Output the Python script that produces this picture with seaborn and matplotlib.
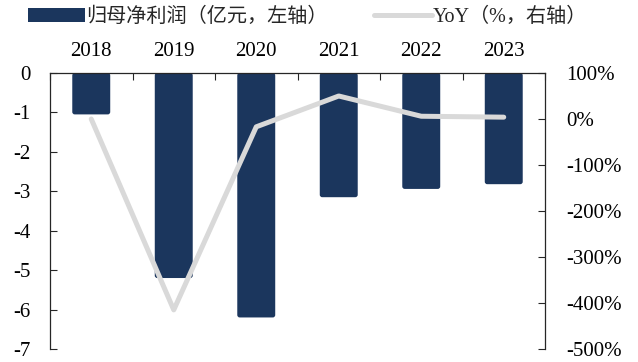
import numpy as np
import pandas as pd
import matplotlib
matplotlib.use("Agg")
import matplotlib.pyplot as plt
import seaborn as sns
from matplotlib.patches import FancyBboxPatch, Patch
from matplotlib.lines import Line2D
from matplotlib.ticker import FuncFormatter, MultipleLocator

# 年度数据
years = ["2018", "2019", "2020", "2021", "2022", "2023"]
net_profit = [-1.05, -5.2, -6.2, -3.15, -2.94, -2.82]   # 归母净利润（亿元）
yoy_pct = [0, -415, -17, 50, 6, 4]                       # 同比（%）

bar_label = "归母净利润（亿元，左轴）"
line_label = "YoY（%，右轴）"

BAR_COLOR = "#1b365d"
LINE_COLOR = "#d9d9d9"
AXIS_COLOR = "#262626"
TICK_FS = 15
LINE_W = 3.6

sns.set_theme(style="white")
plt.rcParams["font.family"] = ["Liberation Serif", "Noto Sans CJK SC"]
plt.rcParams["axes.unicode_minus"] = False

df = pd.DataFrame({"year": years, "profit": net_profit, "yoy": yoy_pct})

fig = plt.figure(figsize=(6.38, 3.62), dpi=100)
ax = fig.add_axes([50 / 638, 1 - 349 / 362, 495 / 638, 276 / 362])

sns.barplot(data=df, x="year", y="profit", color=BAR_COLOR, width=0.46,
            saturation=1, ax=ax, zorder=2)

# rounded bar corners
px_x = 495 / 6.0
px_y = 276 / 7.0
for p in list(ax.patches):
    x0, y0 = p.get_x(), p.get_y()
    w, h = p.get_width(), p.get_height()
    yb = min(y0, y0 + h)
    fb = FancyBboxPatch((x0, yb), w, abs(h),
                        boxstyle="round,pad=0,rounding_size=0.03",
                        mutation_aspect=px_x / px_y,
                        facecolor=BAR_COLOR, edgecolor="none", zorder=2)
    p.remove()
    ax.add_patch(fb)

ax.set_ylim(-7, 0)
ax.set_xlim(-0.5, 5.5)
ax.yaxis.set_major_locator(MultipleLocator(1))
ax.yaxis.set_major_formatter(FuncFormatter(lambda v, _: f"{v:.0f}"))
ax.set_xlabel("")
ax.set_ylabel("")

# category labels on top, tick marks on category boundaries
ax.xaxis.tick_top()
ax.set_xticks(range(len(years)))
ax.set_xticklabels(years)
ax.tick_params(axis="x", which="major", length=0, pad=9, labelsize=TICK_FS,
               labelcolor="black")
ax.set_xticks(np.arange(-0.5, len(years), 1.0), minor=True)
ax.tick_params(axis="x", which="minor", top=True, bottom=False,
               direction="in", length=5, color=AXIS_COLOR, width=0.8)
ax.tick_params(axis="y", direction="in", length=5, color=AXIS_COLOR,
               width=0.8, labelsize=TICK_FS, labelcolor="black", pad=14)

for s in ["left", "top"]:
    ax.spines[s].set_visible(True)
    ax.spines[s].set_color(AXIS_COLOR)
    ax.spines[s].set_linewidth(0.9)
ax.spines["bottom"].set_visible(False)
ax.spines["right"].set_visible(False)

ax2 = ax.twinx()
sns.lineplot(data=df, x="year", y="yoy", ax=ax2, color=LINE_COLOR,
             linewidth=LINE_W, solid_joinstyle="round", solid_capstyle="round",
             zorder=3)
ax2.set_ylim(-500, 100)
ax2.yaxis.set_major_locator(MultipleLocator(100))
ax2.yaxis.set_major_formatter(FuncFormatter(lambda v, _: f"{v:.0f}%"))
ax2.set_ylabel("")
ax2.set_xlabel("")
ax2.tick_params(axis="y", direction="in", length=5, color=AXIS_COLOR,
                width=0.8, labelsize=TICK_FS, labelcolor="black", pad=15)
ax2.spines["right"].set_visible(True)
ax2.spines["right"].set_color(AXIS_COLOR)
ax2.spines["right"].set_linewidth(0.9)
for s in ["left", "top", "bottom"]:
    ax2.spines[s].set_visible(False)
ax.set_xlim(-0.5, 5.5)

handles = [Patch(facecolor=BAR_COLOR, edgecolor="none", label=bar_label),
           Line2D([0], [0], color=LINE_COLOR, lw=LINE_W, solid_capstyle="round",
                  label=line_label)]
fig.legend(handles=handles, loc="center left", bbox_to_anchor=(28 / 638, 1 - 17 / 362),
           ncol=2, frameon=False, fontsize=14.5, handlelength=2.85,
           handleheight=0.7, handletextpad=0.05, columnspacing=2.3,
           borderpad=0, borderaxespad=0)

fig.savefig("out.png", dpi=100)
